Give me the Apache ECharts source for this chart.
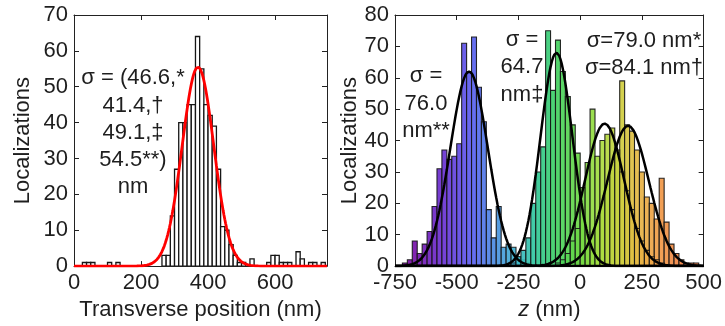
<!DOCTYPE html>
<html><head><meta charset="utf-8">
<script src="https://cdn.jsdelivr.net/npm/echarts@6/dist/echarts.min.js"></script>
<style>html,body{margin:0;padding:0;background:#fff}#c{width:725px;height:326px}</style>
</head><body><div id="c"></div>
<script>
// ---------- Left panel: transverse position histogram ----------
const leftBinWidth = 12.5;
const leftBinStarts = [0,12.5,25,37.5,50,62.5,75,87.5,100,112.5,125,137.5,150,162.5,175,187.5,200,212.5,225,237.5,
  250,262.5,275,287.5,300,312.5,325,337.5,350,362.5,375,387.5,400,412.5,425,437.5,450,462.5,475,487.5,
  500,512.5,525,537.5,550,562.5,575,587.5,600,612.5,625,637.5,650,662.5,675,687.5,700,712.5,725,737.5];
const leftCounts = [0,0,1,1,1,0,0,0,1,0,1,0,0,0,0,0,0,0,0,0,
  0,3,3,14,27,40,40,45,45,64,55,45,42,39,27,11,10,6,3,1,
  1,0,2,0,0,0,1,3,3,1,1,1,0,4,2,0,1,1,0,1];
// Gaussian fit: [center, sigma, peak]
const leftFit = [370, 47, 55.5];
const leftXTicks = [0, 200, 400, 600];

// ---------- Right panel: z histograms ----------
const rightBinWidth = 20;
const rightBinStarts = [-740,-720,-700,-680,-660,-640,-620,-600,-580,-560,-540,-520,-500,-480,-460,-440,-420,-400,-380,-360,
  -340,-320,-300,-280,-260,-240,-220,-200,-180,-160,-140,-120,-100,-80,-60,-40,-20,0,20,40,
  60,80,100,120,140,160,180,200,220,240,260,280,300,320,340,360,380,400,420,440,460,480];
const countsDoubleStar = [0,1,2,8,4,7,11,19,31,37,34,35,39,71,62,73,57,46,18,9,
  19,6,7,6,3,2,1,0,0,0,0,0,0,0,0,0,0,0,0,0,
  0,0,0,0,0,0,0,0,0,0,0,0,0,0,0,0,0,0,0,0,0,0];
const countsDoubleDagger = [0,0,0,0,0,0,0,0,0,0,0,0,0,0,0,0,0,0,0,0,
  0,0,0,1,3,5,9,20,30,38,75,56,72,62,54,45,36,18,10,5,
  2,1,0,0,0,0,0,0,0,0,0,0,0,0,0,0,0,0,0,0,0,0];
const countsStar = [0,0,0,0,0,0,0,0,0,0,0,0,0,0,0,0,0,0,0,0,
  0,0,0,0,0,0,0,0,0,0,0,0,1,2,4,8,12,25,33,50,
  35,40,42,44,37,30,24,18,12,8,5,3,2,1,0,0,0,0,0,0,0,0];
const countsDagger = [0,0,0,0,0,0,0,0,0,0,0,0,0,0,0,0,0,0,0,0,
  0,0,0,0,0,0,0,0,0,0,0,0,0,0,0,0,1,4,6,10,
  14,20,26,33,36,59,45,43,37,30,22,20,15,28,14,7,4,2,1,1,1,0];
// Gaussian fits: [center, sigma, peak]
const fitDoubleStar = [-450, 76.0, 62];
const fitDoubleDagger = [-96, 64.7, 68];
const fitStar = [99, 79.0, 45.4];
const fitDagger = [194, 84.1, 44.7];

// ---------- styling ----------
const FONT = 'Liberation Sans, Arial, sans-serif';
const TXT = '#1e1e1e';
const FS = 22;
const cmapStops = [[-700,[123,10,160]],[-560,[106,47,208]],[-440,[91,94,240]],[-340,[74,144,224]],[-260,[63,182,207]],
  [-180,[48,199,154]],[-100,[63,207,98]],[0,[111,216,67]],[80,[168,220,64]],[160,[205,208,64]],[240,[230,180,67]],
  [320,[240,154,72]],[440,[240,120,64]]];
function cmap(z){
  if(z<=cmapStops[0][0]) return 'rgb('+cmapStops[0][1].join(',')+')';
  for(let i=1;i<cmapStops.length;i++){
    if(z<=cmapStops[i][0]){
      const a=cmapStops[i-1], b=cmapStops[i], t=(z-a[0])/(b[0]-a[0]);
      const c=a[1].map((v,k)=>Math.round(v+(b[1][k]-v)*t));
      return 'rgb('+c.join(',')+')';
    }
  }
  return 'rgb('+cmapStops[cmapStops.length-1][1].join(',')+')';
}

function histData(starts, counts, w){ return starts.map((s,i)=>[s, s+w, counts[i]]); }
function gaussCurve(fit, x0, x1, step){
  const out=[];
  for(let x=x0;x<=x1+1e-9;x+=step){ out.push([x, fit[2]*Math.exp(-0.5*Math.pow((x-fit[0])/fit[1],2))]); }
  return out;
}
function histSeries(gi, data, fillFn, opacity, lw){
  return {
    type:'custom', xAxisIndex: gi*2, yAxisIndex: gi*2, clip:true,
    encode:{x:[0,1], y:2},
    data: data,
    renderItem: function(params, api){
      const a=api.value(0), b=api.value(1), v=api.value(2);
      if(!v) return null;
      const p0=api.coord([a,v]), p1=api.coord([b,0]);
      return {type:'rect', shape:{x:p0[0], y:p0[1], width:p1[0]-p0[0], height:p1[1]-p0[1]},
        style:{fill:fillFn((a+b)/2), stroke:'#161616', lineWidth:lw, opacity:opacity}};
    }
  };
}
function lineSeries(gi, data, color, w){
  return {type:'line', xAxisIndex: gi*2, yAxisIndex: gi*2, data:data, showSymbol:false, symbol:'none',
    lineStyle:{color:color, width:w}, silent:true, z:5, animation:false};
}

function xAxes(gi, min, max, interval, name, fmt){
  const base = {gridIndex:gi, type:'value', min:min, max:max, interval:interval,
    axisLine:{show:true, onZero:false, lineStyle:{color:'#222', width:1}},
    axisTick:{show:true, inside:true, length:5, lineStyle:{color:'#222', width:1}},
    splitLine:{show:false}};
  return [
    Object.assign({}, base, {position:'bottom',
      axisLabel:{show:true, color:TXT, fontSize:FS, fontFamily:FONT, margin:6, formatter:fmt, hideOverlap:false},
      name:name, nameLocation:'middle', nameGap:25,
      nameTextStyle:{color:TXT, fontSize:FS, fontFamily:FONT,
        rich:{it:{fontStyle:'italic', fontSize:FS, fontFamily:FONT, color:TXT}, n:{fontSize:FS, fontFamily:FONT, color:TXT}}}}),
    Object.assign({}, base, {position:'top', axisLabel:{show:false}})
  ];
}
function yAxes(gi, min, max, interval, name, gap){
  const base = {gridIndex:gi, type:'value', min:min, max:max, interval:interval,
    axisLine:{show:true, onZero:false, lineStyle:{color:'#222', width:1}},
    axisTick:{show:true, inside:true, length:5, lineStyle:{color:'#222', width:1}},
    splitLine:{show:false}};
  return [
    Object.assign({}, base, {position:'left',
      axisLabel:{show:true, color:TXT, fontSize:FS, fontFamily:FONT, margin:6},
      name:name, nameLocation:'middle', nameGap:gap,
      nameTextStyle:{color:TXT, fontSize:FS, fontFamily:FONT}}),
    Object.assign({}, base, {position:'right', axisLabel:{show:false}})
  ];
}

const leftFmt = v => leftXTicks.indexOf(v) >= 0 ? String(v) : '';
const rightFmt = v => String(v);

function txt(x, y, s){
  return {type:'text', x:x, y:y, style:{text:s, fill:TXT, font: FS+'px '+FONT, textAlign:'center', textVerticalAlign:'middle'}, z:10};
}

const chart = echarts.init(document.getElementById('c'), null, {renderer:'canvas'});
chart.setOption({
  animation:false,
  backgroundColor:'#fff',
  grid:[
    {left:74, top:15, width:253, height:253},
    {left:395, top:15, width:320, height:253}
  ],
  xAxis: [].concat(
    xAxes(0, 0, 755, 200, 'Transverse position (nm)', leftFmt),
    xAxes(1, -750, 500, 250, '{it|z}{n| (nm)}', rightFmt)
  ),
  yAxis: [].concat(
    yAxes(0, 0, 70, 10, 'Localizations', 40),
    yAxes(1, 0, 80, 10, 'Localizations', 30)
  ),
  series:[
    histSeries(0, histData(leftBinStarts, leftCounts, leftBinWidth), ()=>'#ffffff', 1, 1.3),
    lineSeries(0, gaussCurve(leftFit, 0, 755, 2.5), '#ff0000', 2.8),
    histSeries(1, histData(rightBinStarts, countsDoubleStar, rightBinWidth), cmap, 0.92, 1.1),
    histSeries(1, histData(rightBinStarts, countsDoubleDagger, rightBinWidth), cmap, 0.92, 1.1),
    histSeries(1, histData(rightBinStarts, countsDagger, rightBinWidth), cmap, 0.92, 1.1),
    histSeries(1, histData(rightBinStarts, countsStar, rightBinWidth), cmap, 0.92, 1.1),
    lineSeries(1, gaussCurve(fitDoubleStar, -750, 500, 5), '#000', 2.5),
    lineSeries(1, gaussCurve(fitDoubleDagger, -750, 500, 5), '#000', 2.5),
    lineSeries(1, gaussCurve(fitStar, -750, 500, 5), '#000', 2.5),
    lineSeries(1, gaussCurve(fitDagger, -750, 500, 5), '#000', 2.5)
  ],
  graphic:[
    txt(133, 78, 'σ = (46.6,*'),
    txt(133, 106, '41.4,†'),
    txt(133, 133, '49.1,‡'),
    txt(133, 160, '54.5**)'),
    txt(133, 187, 'nm'),
    txt(426, 76, 'σ ='),
    txt(426, 104, '76.0'),
    txt(426, 131, 'nm**'),
    txt(522, 40, 'σ ='),
    txt(522, 67, '64.7'),
    txt(522, 95, 'nm‡'),
    txt(644, 41, 'σ=79.0 nm*'),
    txt(644, 68, 'σ=84.1 nm†')
  ]
});
</script></body></html>
